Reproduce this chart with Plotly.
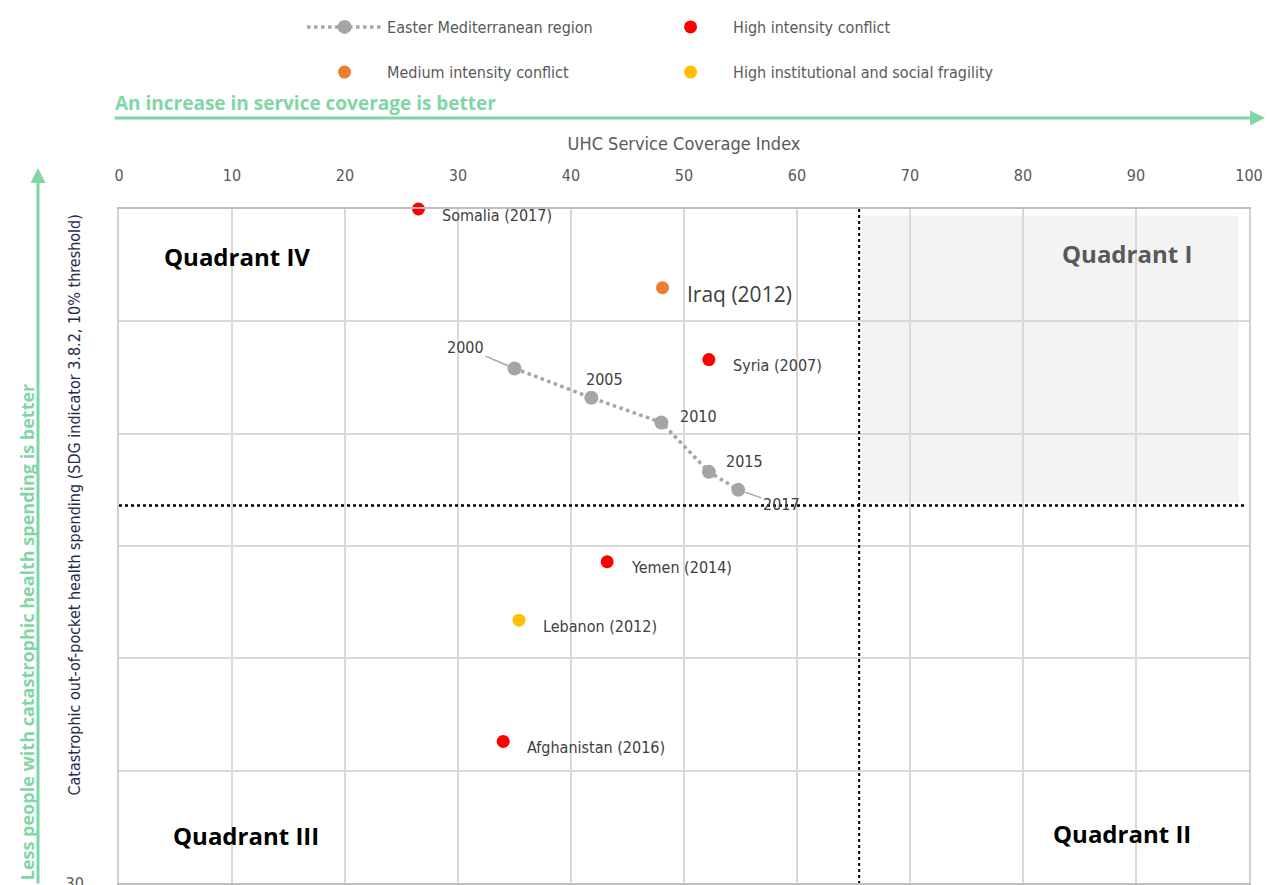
import plotly.graph_objects as go

# Eastern Mediterranean region trend
emr_years = ["2000", "2005", "2010", "2015", "2017"]
emr_uhc = [35.0, 41.8, 48.0, 52.2, 54.8]
emr_cat = [7.1, 8.4, 9.5, 11.7, 12.5]

# country points by group
high_names = ["Somalia (2017)", "Syria (2007)", "Yemen (2014)", "Afghanistan (2016)"]
high_uhc = [26.5, 52.2, 43.2, 34.0]
high_cat = [0.0, 6.7, 15.7, 23.7]

medium_names = ["Iraq (2012)"]
medium_uhc = [48.1]
medium_cat = [3.5]

fragile_names = ["Lebanon (2012)"]
fragile_uhc = [35.4]
fragile_cat = [18.3]

# thresholds splitting quadrants
uhc_threshold = 65.5
cat_threshold = 13.2

x_ticks = [0, 10, 20, 30, 40, 50, 60, 70, 80, 90, 100]
y_ticks = [0, 5, 10, 15, 20, 25, 30]
y_ticktext = ["", "", "", "", "", "", "30"]

NARROW = "Liberation Sans Narrow, DejaVu Sans Condensed, Arial Narrow, sans-serif"
BOLD = "Open Sans, Noto Sans, sans-serif"
GREEN = "#80d6a6"
GREY_TXT = "#595959"

fig = go.Figure()

fig.add_trace(go.Scatter(
    x=emr_uhc, y=emr_cat, mode="lines+markers",
    name="Easter Mediterranean region",
    line=dict(color="#a5a5a5", width=3.5, dash="dot"),
    marker=dict(color="#a5a5a5", size=14),
    legend="legend",
))
fig.add_trace(go.Scatter(
    x=high_uhc, y=high_cat, mode="markers", name="High intensity conflict",
    marker=dict(color="#ff0000", size=13), legend="legend", cliponaxis=False,
    legendwidth=300,
))
fig.add_trace(go.Scatter(
    x=medium_uhc, y=medium_cat, mode="markers", name="Medium intensity conflict",
    marker=dict(color="#ed7d31", size=13), legend="legend2",
))
fig.add_trace(go.Scatter(
    x=fragile_uhc, y=fragile_cat, mode="markers",
    name="High institutional and social fragility",
    marker=dict(color="#ffc000", size=13), legend="legend2", legendwidth=300,
))

# quadrant I shading and threshold lines
fig.add_shape(type="rect", x0=uhc_threshold + 0.2, x1=99.1, y0=0.3, y1=cat_threshold - 0.1,
              fillcolor="#f3f3f3", line_width=0, layer="below")
fig.add_shape(type="line", x0=0, x1=99.6, y0=cat_threshold, y1=cat_threshold,
              line=dict(color="black", width=2.5, dash="dot"))
fig.add_shape(type="line", x0=uhc_threshold, x1=uhc_threshold, y0=0, y1=30,
              line=dict(color="black", width=2, dash="dot"))

# country labels
label_font = dict(family=NARROW, size=16, color="#404040")
for names, xs, ys in [(high_names, high_uhc, high_cat),
                      (fragile_names, fragile_uhc, fragile_cat)]:
    for n, xv, yv in zip(names, xs, ys):
        fig.add_annotation(x=xv, y=yv, text=n, showarrow=False, xanchor="left",
                           xshift=22, yshift=-6, font=label_font)
for n, xv, yv in zip(medium_names, medium_uhc, medium_cat):
    fig.add_annotation(x=xv, y=yv, text=n, showarrow=False, xanchor="left",
                       xshift=22, yshift=-6,
                       font=dict(family=BOLD, size=21, color="#404040"))

# year labels on the regional trend
year_offsets = [(-49, -21, True), (13, -18, False), (37, -6, False),
                (36, -10, False), (43, 15, True)]
for yr, xv, yv, (ax, ay, arrow) in zip(emr_years, emr_uhc, emr_cat, year_offsets):
    if arrow:
        fig.add_annotation(x=xv, y=yv, text=yr, showarrow=True, ax=ax, ay=ay,
                           arrowhead=0, arrowwidth=1.5, arrowcolor="#a5a5a5",
                           standoff=7, font=label_font)
    else:
        fig.add_annotation(x=xv, y=yv, text=yr, showarrow=False,
                           xshift=ax, yshift=-ay, font=label_font)

# quadrant names
quad_font = dict(family=BOLD, size=24, color="black")
fig.add_annotation(x=10.4, y=2.1, text="<b>Quadrant IV</b>", showarrow=False, font=quad_font)
fig.add_annotation(x=89.2, y=2.0, text="<b>Quadrant I</b>", showarrow=False,
                   font=dict(family=BOLD, size=24, color=GREY_TXT))
fig.add_annotation(x=11.2, y=27.9, text="<b>Quadrant III</b>", showarrow=False, font=quad_font)
fig.add_annotation(x=88.8, y=27.8, text="<b>Quadrant II</b>", showarrow=False, font=quad_font)

# green direction arrows
fig.add_annotation(xref="paper", yref="paper", x=1.0142, y=1.135, ax=-1152, ay=0,
                   text="", showarrow=True, arrowhead=2, arrowsize=1, arrowwidth=3,
                   arrowcolor=GREEN)
fig.add_annotation(xref="paper", yref="paper", x=-0.0053, y=1.157, xanchor="left",
                   yanchor="middle",
                   text="<b>An increase in service coverage is better</b>", showarrow=False,
                   font=dict(family=BOLD, size=19, color=GREEN))
fig.add_annotation(xref="paper", yref="paper", x=-0.0717, y=1.061, ax=0, ay=740,
                   text="", showarrow=True, arrowhead=2, arrowsize=1, arrowwidth=3,
                   arrowcolor=GREEN)
fig.add_annotation(xref="paper", yref="paper", x=-0.0814, y=0.372, textangle=-90,
                   xanchor="center", yanchor="middle",
                   text="<b>Less people with catastrophic health spending is better</b>",
                   showarrow=False, font=dict(family=BOLD, size=18, color=GREEN))

# y axis title
fig.add_annotation(xref="paper", yref="paper", x=-0.0392, y=0.561, textangle=-90,
                   xanchor="center", yanchor="middle",
                   text="Catastrophic out-of-pocket health spending (SDG indicator 3.8.2, 10% threshold)",
                   showarrow=False, font=dict(family=NARROW, size=16, color="#1f2d4d"))

fig.update_layout(
    width=1267, height=885,
    margin=dict(l=119, r=18, t=209, b=2),
    paper_bgcolor="white", plot_bgcolor="white",
    showlegend=True,
    legend=dict(orientation="h", x=0.162, xanchor="left", y=1.27, yanchor="middle",
                itemwidth=75, entrywidth=256, font=dict(family=NARROW, size=16, color=GREY_TXT),
                bgcolor="rgba(0,0,0,0)"),
    legend2=dict(orientation="h", x=0.162, xanchor="left", y=1.203, yanchor="middle",
                 itemwidth=75, entrywidth=256, font=dict(family=NARROW, size=16, color=GREY_TXT),
                 bgcolor="rgba(0,0,0,0)"),
    xaxis=dict(
        side="top", range=[0, 100], tickvals=x_ticks, automargin=False,
        title=dict(text="UHC Service Coverage Index", standoff=10,
                   font=dict(family=NARROW, size=18, color=GREY_TXT)),
        tickfont=dict(family=NARROW, size=16, color=GREY_TXT),
        ticks="outside", ticklen=20, tickcolor="rgba(0,0,0,0)",
        showgrid=True, gridcolor="#d9d9d9", gridwidth=2,
        showline=True, linecolor="#bfbfbf", linewidth=2, mirror=True,
        zeroline=False,
    ),
    yaxis=dict(
        range=[30, 0], tickvals=y_ticks, ticktext=y_ticktext, automargin=False,
        tickfont=dict(family=NARROW, size=16, color=GREY_TXT),
        ticks="outside", ticklen=30, tickcolor="rgba(0,0,0,0)",
        ticklabeloverflow="allow",
        showgrid=True, gridcolor="#d9d9d9", gridwidth=2,
        showline=True, linecolor="#d0d0d0", linewidth=2, mirror=True,
        zeroline=False,
    ),
)

fig.write_html("out.html", config={"displayModeBar": False},
               post_script="document.body.style.margin='0';")
